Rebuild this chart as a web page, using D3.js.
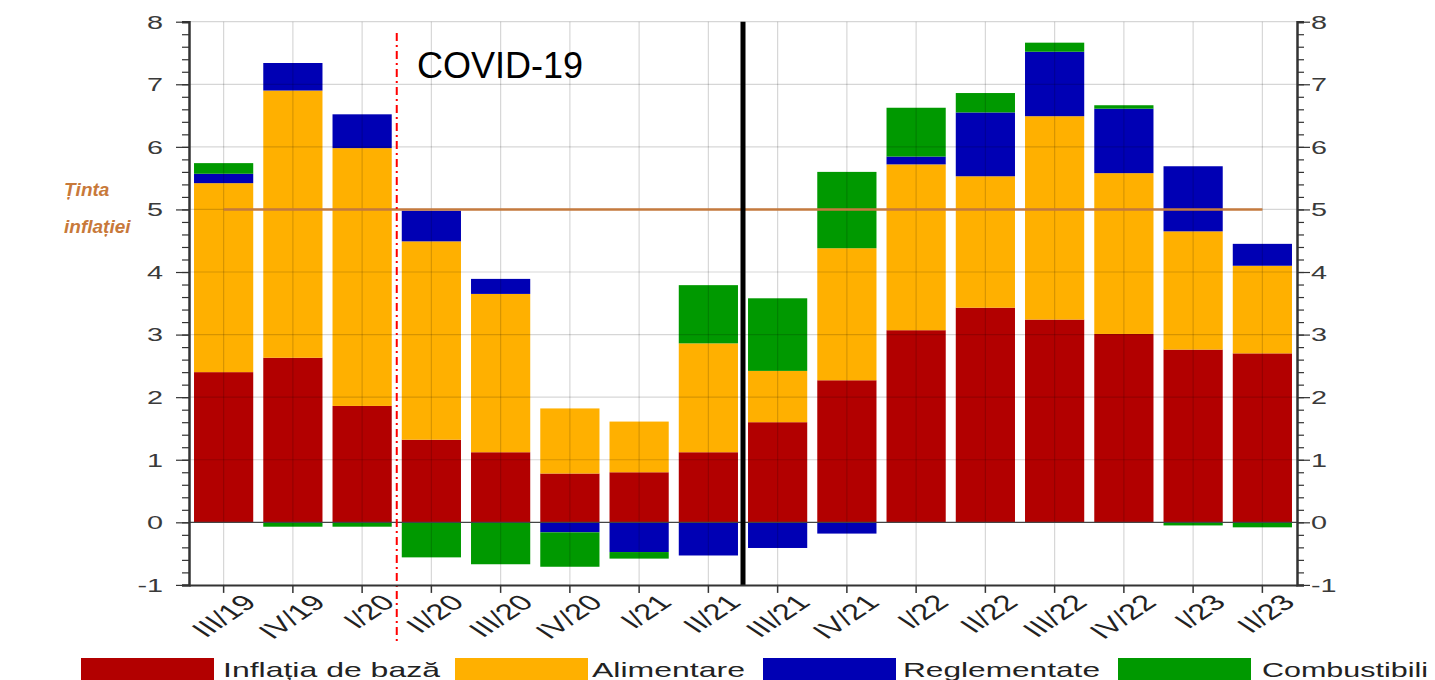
<!DOCTYPE html>
<html>
<head>
<meta charset="utf-8">
<script src="https://cdn.jsdelivr.net/npm/d3@7/dist/d3.min.js"></script>
<style>
  html, body { margin: 0; padding: 0; background: #fff; }
  svg { display: block; }
  text { font-family: "Liberation Sans", Arial, sans-serif; }
</style>
</head>
<body>
<svg id="chart" width="1435" height="680"></svg>
<script>
// ---- data ----
const categories = ["III/19","IV/19","I/20","II/20","III/20","IV/20","I/21","II/21","III/21","IV/21","I/22","II/22","III/22","IV/22","I/23","II/23"];
const seriesNames = ["Inflația de bază","Alimentare","Reglementate","Combustibili"];
const core      = [2.40, 2.63, 1.86, 1.32, 1.12, 0.78, 0.80, 1.12, 1.60, 2.27, 3.07, 3.43, 3.24, 3.01, 2.76, 2.70];
const food      = [3.02, 4.27, 4.12, 3.17, 2.53, 1.04, 0.81, 1.74, 0.82, 2.11, 2.65, 2.10, 3.25, 2.57, 1.89, 1.40];
const regulated = [0.15, 0.44, 0.54, 0.49, 0.24, -0.16, -0.475, -0.53, -0.41, -0.18, 0.125, 1.02, 1.03, 1.03, 1.04, 0.35];
const fuel      = [0.17, -0.07, -0.07, -0.56, -0.67, -0.55, -0.105, 0.93, 1.16, 1.22, 0.78, 0.31, 0.145, 0.055, -0.05, -0.08];
const yTicks = [-1, 0, 1, 2, 3, 4, 5, 6, 7, 8];
const target = 5;
const targetLabel = ["Ținta", "inflației"];
const covidLabel = "COVID-19";
const covidAfter = "I/20";     // COVID line drawn after this category
const splitAfter = "II/21";    // thick black line after this category

const colors = ["#b20000", "#ffb000", "#0000b4", "#009900"];

// ---- layout ----
const svg = d3.select("#chart");
const pL = 189, pR = 1297, pT = 21.7, pB = 584.9;
const sx = 1.6; // horizontal stretch of the original's text

const x = d3.scaleBand().domain(categories).range([pL, pR]).paddingInner(0.145).paddingOuter(0.0725);
const y = d3.scaleLinear().domain([-1, 8]).range([pB, pT]);
const cx = c => x(c) + x.bandwidth() / 2;

// table
const table = categories.map((c, i) => ({
  cat: c,
  [seriesNames[0]]: core[i],
  [seriesNames[1]]: food[i],
  [seriesNames[2]]: regulated[i],
  [seriesNames[3]]: fuel[i]
}));
const stacked = d3.stack().keys(seriesNames).offset(d3.stackOffsetDiverging)(table);

// bars
const gBars = svg.append("g");
stacked.forEach((s, si) => {
  gBars.selectAll(null).data(s).enter().append("rect")
    .attr("x", d => x(d.data.cat))
    .attr("width", x.bandwidth())
    .attr("y", d => y(Math.max(d[0], d[1])))
    .attr("height", d => Math.abs(y(d[0]) - y(d[1])))
    .attr("fill", colors[si]);
});

// gridlines (drawn over bars, translucent)
const grid = svg.append("g").attr("stroke", "rgba(0,0,0,0.16)").attr("stroke-width", 1.2);
grid.selectAll(null).data(yTicks.filter(t => t !== -1 && t !== 0)).enter().append("line")
  .attr("x1", pL).attr("x2", pR)
  .attr("y1", d => y(d)).attr("y2", d => y(d));
grid.selectAll(null).data(categories).enter().append("line")
  .attr("x1", d => cx(d)).attr("x2", d => cx(d))
  .attr("y1", y(8)).attr("y2", y(-1));

// zero line
svg.append("line").attr("x1", pL).attr("x2", pR)
  .attr("y1", y(0)).attr("y2", y(0))
  .attr("stroke", "#444").attr("stroke-width", 1.2);

// target line
svg.append("line")
  .attr("x1", cx(categories[0])).attr("x2", cx(categories[categories.length - 1]))
  .attr("y1", y(target)).attr("y2", y(target))
  .attr("stroke", "#c47a3e").attr("stroke-width", 2.5);

// thick black split line
const splitPos = (x(splitAfter) + x.bandwidth() + x(categories[categories.indexOf(splitAfter) + 1])) / 2;
svg.append("line").attr("x1", splitPos).attr("x2", splitPos)
  .attr("y1", y(8)).attr("y2", y(-1))
  .attr("stroke", "#000").attr("stroke-width", 5);

// covid dash-dot line
const covidPos = (x(covidAfter) + x.bandwidth() + x(categories[categories.indexOf(covidAfter) + 1])) / 2;
svg.append("line").attr("x1", covidPos).attr("x2", covidPos)
  .attr("y1", 33).attr("y2", 642)
  .attr("stroke", "#ff0000").attr("stroke-width", 2)
  .attr("stroke-dasharray", "8,4,2,4");

// axes
const axisColor = "#333";
function yAxis(isLeft) {
  const ax = isLeft ? d3.axisLeft(y) : d3.axisRight(y);
  const g = svg.append("g").attr("transform", `translate(${isLeft ? pL : pR},0)`);
  g.call(ax.tickValues(d3.range(-1, 8.001, 0.2).map(v => +v.toFixed(1))).tickSize(7).tickFormat(""));
  g.selectAll(".tick line").attr("stroke", axisColor).attr("stroke-width", 1.2);
  g.select(".domain").attr("stroke", axisColor).attr("stroke-width", 2.5);
  const g2 = svg.append("g").attr("transform", `translate(${isLeft ? pL : pR},0)`);
  g2.call(ax.tickValues(yTicks).tickSize(13).tickFormat(d3.format("d")));
  g2.select(".domain").remove();
  g2.selectAll(".tick line").attr("stroke", axisColor).attr("stroke-width", 1.2);
  g2.selectAll(".tick text")
    .attr("x", null).attr("dy", null)
    .attr("font-size", 18).attr("fill", "#3a3a3a")
    .attr("dominant-baseline", "central")
    .attr("text-anchor", isLeft ? "end" : "start")
    .attr("transform", `translate(${isLeft ? -26 : 14},0) scale(${sx},1)`)
    .text(d => d < 0 ? "-" + Math.abs(d) : d);
}
yAxis(true);
yAxis(false);

// bottom axis
const gx = svg.append("g").attr("transform", `translate(0,${pB})`);
gx.call(d3.axisBottom(x).tickSize(8).tickSizeOuter(0).tickFormat(""));
gx.select(".domain").attr("stroke", axisColor).attr("stroke-width", 2);
gx.selectAll(".tick line").attr("stroke", axisColor).attr("stroke-width", 1.5);

// x labels
svg.append("g").selectAll(null).data(categories).enter().append("text")
  .attr("transform", d => `translate(${cx(d) + 34},${pB + 19}) scale(1.5,1) rotate(-45)`)
  .attr("text-anchor", "end")
  .attr("font-size", 22).attr("fill", "#222")
  .text(d => d);

// target label
const tl = svg.append("text").attr("font-size", 19).attr("font-weight", "bold")
  .attr("font-style", "italic").attr("fill", "#c8793a").attr("text-anchor", "start");
tl.append("tspan").attr("x", 64).attr("y", 196).text(targetLabel[0]);
tl.append("tspan").attr("x", 64).attr("y", 233).text(targetLabel[1]);

// covid label
svg.append("text").attr("x", 417).attr("y", 78).attr("font-size", 36).attr("fill", "#000").text(covidLabel);

// legend
const legendSw = [81, 455, 763, 1118];
const legendTx = [223, 592, 903, 1262];
const legendLen = [217, 153, 197, 166];
const lg = svg.append("g");
seriesNames.forEach((n, i) => {
  lg.append("rect").attr("x", legendSw[i]).attr("y", 658).attr("width", 133).attr("height", 24).attr("fill", colors[i]);
  lg.append("text").attr("x", legendTx[i]).attr("y", 677).attr("font-size", 21).attr("fill", "#222")
    .attr("textLength", legendLen[i]).attr("lengthAdjust", "spacingAndGlyphs").text(n);
});
</script>
</body>
</html>
